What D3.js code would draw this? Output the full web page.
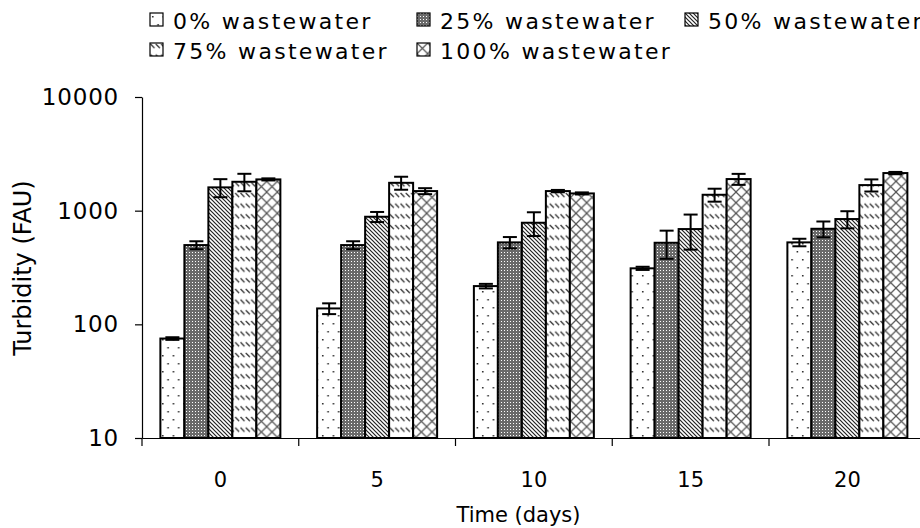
<!DOCTYPE html>
<html>
<head>
<meta charset="utf-8">
<script src="https://cdn.jsdelivr.net/npm/d3@7"></script>
<style>
  html, body { margin: 0; padding: 0; background: #fff; }
  svg { display: block; }
  text { font-family: "DejaVu Sans", Verdana, sans-serif; fill: #000; }
</style>
</head>
<body>
<svg id="chart" width="920" height="528"></svg>
<script>
// Sampling days (category axis)
const days = ["0", "5", "10", "15", "20"];

// Series labels
const seriesNames = ["0% wastewater", "25% wastewater", "50% wastewater", "75% wastewater", "100% wastewater"];

// Mean turbidity (FAU) per day for each wastewater fraction
const turb0   = [75, 138, 217, 311, 526];
const turb25  = [498, 498, 526, 522, 693];
const turb50  = [1603, 884, 783, 689, 844];
const turb75  = [1795, 1758, 1487, 1380, 1679];
const turb100 = [1884, 1487, 1418, 1897, 2142];

// Standard deviations for the error bars
const err0   = [2, 15, 10, 10, 40];
const err25  = [40, 40, 60, 145, 110];
const err50  = [290, 90, 185, 235, 145];
const err75  = [315, 230, 35, 180, 205];
const err100 = [40, 90, 30, 210, 50];

// Y axis ticks
const yTicks = [10, 100, 1000, 10000];

const means = [turb0, turb25, turb50, turb75, turb100];
const errs = [err0, err25, err50, err75, err100];
const patternIds = ["pDots", "pGray", "pDiag", "pDash", "pCross"];

const rows = [];
days.forEach((d, i) => {
  seriesNames.forEach((s, j) => {
    rows.push({ day: d, series: s, idx: j, v: means[j][i], e: errs[j][i] });
  });
});

const svg = d3.select("#chart");

// ---- fill patterns ----
const defs = svg.append("defs");
const unit = 32 / 3; // pattern cell

{
  const p = defs.append("pattern").attr("id", "pDots").attr("patternUnits", "userSpaceOnUse")
    .attr("width", unit).attr("height", 16);
  p.append("rect").attr("width", unit).attr("height", 16).attr("fill", "#fff");
  p.append("rect").attr("x", 2).attr("y", 3).attr("width", 1.5).attr("height", 1.5).attr("fill", "#222");
  p.append("rect").attr("x", 2 + unit / 2).attr("y", 11).attr("width", 1.5).attr("height", 1.5).attr("fill", "#222");
}
{
  const p = defs.append("pattern").attr("id", "pGray").attr("patternUnits", "userSpaceOnUse")
    .attr("width", 3).attr("height", 3);
  p.append("rect").attr("width", 3).attr("height", 3).attr("fill", "#6a6a6a");
  p.append("rect").attr("width", 1).attr("height", 1).attr("fill", "#fff");
}
{
  const p = defs.append("pattern").attr("id", "pDiag").attr("patternUnits", "userSpaceOnUse")
    .attr("width", 4).attr("height", 4);
  p.append("rect").attr("width", 4).attr("height", 4).attr("fill", "#fff");
  p.append("path").attr("d", "M-1,-1L5,5M-1,3L1,5M3,-1L5,1")
    .attr("stroke", "#222").attr("stroke-width", 1.2);
}
{
  const w = unit / 2, h = unit;
  const p = defs.append("pattern").attr("id", "pDash").attr("patternUnits", "userSpaceOnUse")
    .attr("width", w).attr("height", h);
  p.append("rect").attr("width", w).attr("height", h).attr("fill", "#fff");
  p.append("path").attr("d", "M0.5,1L4.5,5").attr("stroke", "#333").attr("stroke-width", 1.3);
}
{
  const p = defs.append("pattern").attr("id", "pCross").attr("patternUnits", "userSpaceOnUse")
    .attr("width", unit).attr("height", unit);
  p.append("rect").attr("width", unit).attr("height", unit).attr("fill", "#fff");
  p.append("path").attr("d", `M0,0L${unit},${unit}M${unit},0L0,${unit}`)
    .attr("stroke", "#555").attr("stroke-width", 1.2);
}

// ---- scales ----
const plotLeft = 142, plotTop = 97, plotBottom = 438;
const groupStep = 156.75;
const y = d3.scaleLog().domain([10, 10000]).range([plotBottom, plotTop]);
const x0 = d3.scaleBand().domain(days).range([plotLeft, plotLeft + groupStep * days.length]).padding(0);
const x1 = d3.scaleBand().domain(seriesNames).range([0, x0.bandwidth()])
  .paddingInner(0).paddingOuter(0.766);

// ---- bars ----
const g = svg.append("g");
g.selectAll("rect.bar").data(rows).join("rect")
  .attr("class", "bar")
  .attr("x", d => x0(d.day) + x1(d.series))
  .attr("y", d => y(d.v))
  .attr("width", x1.bandwidth())
  .attr("height", d => y(10) - y(d.v))
  .attr("fill", d => `url(#${patternIds[d.idx]})`)
  .attr("stroke", "#000").attr("stroke-width", 2);

// ---- error bars ----
const cap = 7;
const eb = g.selectAll("g.err").data(rows).join("g").attr("class", "err")
  .attr("transform", d => `translate(${x0(d.day) + x1(d.series) + x1.bandwidth() / 2},0)`);
eb.append("line").attr("x1", 0).attr("x2", 0)
  .attr("y1", d => y(d.v + d.e)).attr("y2", d => y(Math.max(d.v - d.e, 10)))
  .attr("stroke", "#000").attr("stroke-width", 2);
eb.append("line").attr("x1", -cap).attr("x2", cap)
  .attr("y1", d => y(d.v + d.e)).attr("y2", d => y(d.v + d.e))
  .attr("stroke", "#000").attr("stroke-width", 2);
eb.append("line").attr("x1", -cap).attr("x2", cap)
  .attr("y1", d => y(Math.max(d.v - d.e, 10))).attr("y2", d => y(Math.max(d.v - d.e, 10)))
  .attr("stroke", "#000").attr("stroke-width", 2);

// ---- y axis ----
const yAxis = svg.append("g").attr("transform", `translate(${plotLeft},0)`)
  .call(d3.axisLeft(y).tickValues(yTicks).tickFormat(d3.format("d")).tickSize(7).tickSizeOuter(0).tickPadding(16));
yAxis.select(".domain").attr("stroke", "#000").attr("stroke-width", 1.2);
yAxis.selectAll(".tick line").attr("stroke", "#000").attr("stroke-width", 1.2);
yAxis.selectAll(".tick text").attr("font-size", 23).attr("letter-spacing", 0.8)
  .attr("font-family", "DejaVu Sans").attr("fill", "#000");

// ---- x axis ----
const xAxis = svg.append("g").attr("transform", `translate(0,${plotBottom})`)
  .call(d3.axisBottom(x0).tickSize(0).tickPadding(34).tickSizeOuter(0));
xAxis.select(".domain").attr("stroke", "#000").attr("stroke-width", 1.2);
xAxis.selectAll(".tick text").attr("font-size", 21)
  .attr("font-family", "DejaVu Sans").attr("fill", "#000");
// group separators
xAxis.selectAll("line.sep").data(days).join("line").attr("class", "sep")
  .attr("x1", d => x0(d)).attr("x2", d => x0(d))
  .attr("y1", 0).attr("y2", 8)
  .attr("stroke", "#000").attr("stroke-width", 1.2);

// ---- axis titles ----
svg.append("text").attr("x", (plotLeft + 925) / 2 - 15).attr("y", 522)
  .attr("text-anchor", "middle").attr("font-size", 21).text("Time (days)");
svg.append("text").attr("transform", "translate(31,268) rotate(-90)")
  .attr("text-anchor", "middle").attr("font-size", 24).text("Turbidity (FAU)");

// ---- legend ----
const legendPos = [[150, 13], [417, 13], [685, 13], [150, 43], [417, 43]];
const lg = svg.append("g").selectAll("g").data(seriesNames).join("g")
  .attr("transform", (d, i) => `translate(${legendPos[i][0]},${legendPos[i][1]})`);
lg.append("rect").attr("width", 13).attr("height", 13)
  .attr("fill", (d, i) => `url(#${patternIds[i]})`)
  .attr("stroke", "#000").attr("stroke-width", 1.2);
lg.append("text").attr("x", 23).attr("y", 16).attr("font-size", 22)
  .attr("letter-spacing", 2.3).text(d => d);
</script>
</body>
</html>
